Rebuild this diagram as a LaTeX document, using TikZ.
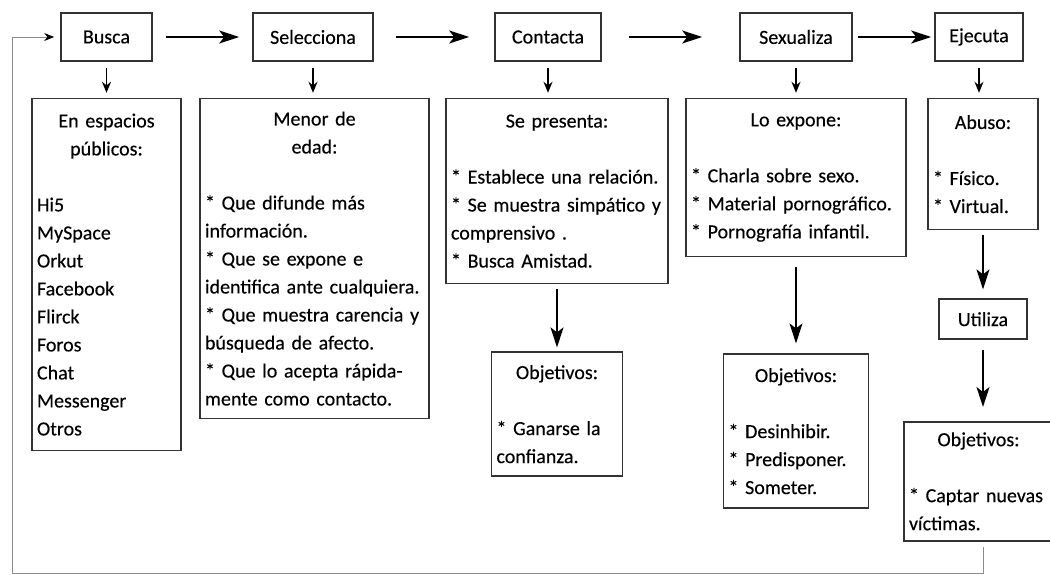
\documentclass[tikz,border=0pt]{standalone}
\usepackage{fontspec}
\setmainfont{Carlito}[FakeBold=0.3]
\usetikzlibrary{positioning, arrows.meta}
\setlength{\parindent}{0pt}

\newcommand{\boxhead}[1]{{\centering #1\par}\vspace{28pt}}

\begin{document}
\begin{tikzpicture}[x=1pt, y=-1pt,
    font=\fontsize{20}{28}\selectfont,
    topbox/.style={draw=black!80, line width=1.6pt, minimum height=48pt, inner sep=0pt},
    infobox/.style={draw=black!80, line width=1.6pt, inner xsep=5pt, inner ysep=0pt, align=left},
    flow/.style={line width=1.8pt, -{Stealth[length=20pt, width=13pt, inset=5pt]}},
    down/.style={line width=1.6pt, -{Stealth[length=11pt, width=9pt]}, shorten <=6pt, shorten >=5pt},
    loopline/.style={draw=black!45, line width=0.9pt}]
\useasboundingbox (0,0) rectangle (1050,574);

% pasos
\node[topbox, minimum width=91pt] (busca) at (106.5,37) {Busca};
\node[topbox, minimum width=120pt] (selec) at (313,37) {Selecciona};
\node[topbox, minimum width=106pt] (contacta) at (548,37) {Contacta};
\node[topbox, minimum width=112pt] (sexualiza) at (796,37) {Sexualiza};
\node[topbox, minimum width=88pt] (ejecuta) at (979,37) {Ejecuta};

% detalle de cada paso
\node[infobox, text width=139pt, minimum height=352pt, below=36pt of busca] (espacios)
  {\boxhead{En espacios\\públicos:}Hi5\\MySpace\\Orkut\\Facebook\\Flirck\\Foros\\Chat\\Messenger\\Otros};
\node[infobox, text width=219pt, minimum height=320pt, below=36pt of selec, xshift=1.5pt] (menor)
  {\boxhead{Menor de\\edad:}* Que difunde más\\información.\\{}* Que se expone e\\identifica ante cualquiera.\\{}* Que muestra carencia y\\búsqueda de afecto.\\{}* Que lo acepta rápida-\\mente como contacto.};
\node[infobox, text width=212pt, minimum height=185pt, below=36pt of contacta, xshift=9pt] (presenta)
  {\boxhead{Se presenta:}* Establece una relación.\\{}* Se muestra simpático y\\comprensivo .\\{}* Busca Amistad.};
\node[infobox, text width=210pt, minimum height=158pt, below=36pt of sexualiza] (expone)
  {\boxhead{Lo expone:}* Charla sobre sexo.\\{}* Material pornográfico.\\{}* Pornografía infantil.};
\node[infobox, text width=100pt, minimum height=131pt, below=36pt of ejecuta, xshift=4pt] (abuso)
  {\boxhead{Abuso:}* Físico.\\{}* Virtual.};

% objetivos
\node[infobox, text width=121pt, minimum height=124pt, below=67pt of presenta] (objuno)
  {\boxhead{Objetivos:}* Ganarse la\\confianza.};
\node[infobox, text width=135pt, minimum height=154pt, below=96pt of expone] (objdos)
  {\boxhead{Objetivos:}* Desinhibir.\\{}* Predisponer.\\{}* Someter.};
\node[topbox, minimum width=88pt, minimum height=40pt, below=68pt of abuso] (utiliza) {Utiliza};
\node[infobox, text width=139pt, minimum height=119pt, below=81pt of utiliza, xshift=-4.5pt] (objtres)
  {\boxhead{Objetivos:}* Captar nuevas\\víctimas.};

\draw[flow, shorten <=13pt, shorten >=13pt] (busca) -- (selec);
\draw[flow, shorten <=22pt, shorten >=25pt] (selec) -- (contacta);
\draw[flow, shorten <=27pt, shorten >=37pt] (contacta) -- (sexualiza);
\draw[flow, shorten <=5pt, shorten >=3pt] (sexualiza) -- (ejecuta);

\foreach \a/\b in {busca/espacios, selec/menor, contacta/presenta, sexualiza/expone, ejecuta/abuso}
  \draw[down] (\a.south) -- (\a.south |- \b.north);

\draw[flow, shorten <=5pt, shorten >=4pt] (presenta) -- (objuno);
\draw[flow, shorten <=10pt, shorten >=10pt] (expone) -- (objdos);
\draw[flow, shorten <=5pt, shorten >=9pt] (abuso.south) -- (abuso.south |- utiliza.north);
\draw[flow, shorten <=10pt, shorten >=14pt] (utiliza.south) -- (utiliza.south |- objtres.north);

% vuelta al inicio
\coordinate (loopa) at (983,547);
\coordinate (loopb) at (983,573);
\coordinate (loopc) at (12,573);
\draw[loopline, -{Stealth[length=10pt, width=8pt, black]}, shorten >=6pt]
  (loopa) -- (loopb) -- (loopc) |- (busca.west);
\end{tikzpicture}
\end{document}
